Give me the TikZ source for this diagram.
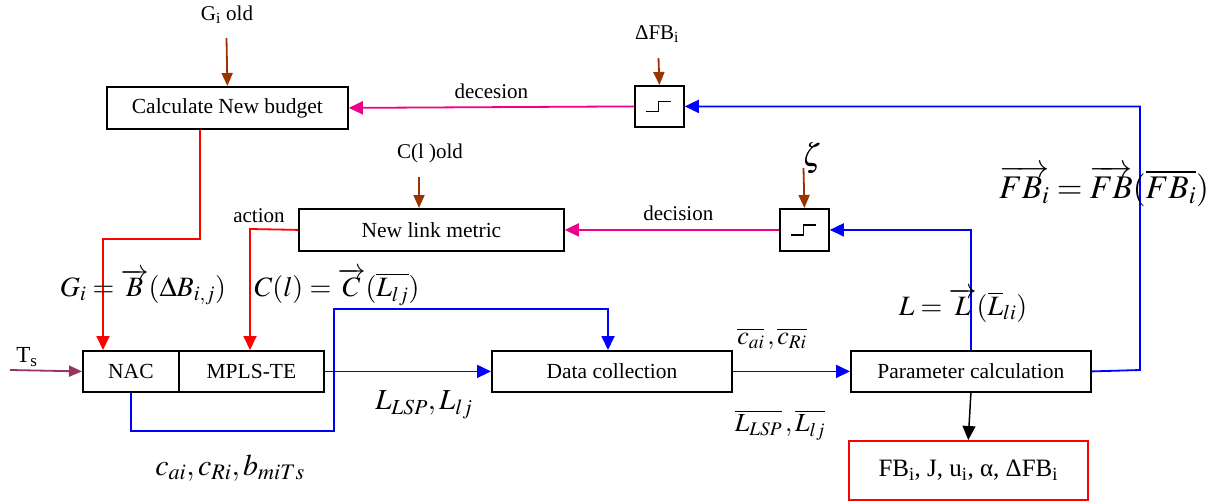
\documentclass[tikz,border=0pt]{standalone}
\usepackage{mathptmx}
\usepackage{fontspec}
\setmainfont{Liberation Serif}
\usetikzlibrary{arrows.meta}

\definecolor{brownin}{RGB}{153,51,0}
\definecolor{plum}{RGB}{153,51,102}

\tikzset{
  blk/.style={draw, line width=1.8pt, inner sep=0pt, anchor=north west,
              font=\fontsize{21.5}{25}\selectfont},
  tip/.style={-{Triangle[length=14pt,width=13pt]}},
  smalltip/.style={-{Triangle[length=13pt,width=11pt]}},
  wire/.style={line width=1.8pt},
  bluewire/.style={wire, blue},
  redwire/.style={wire, red},
  pinkwire/.style={wire, magenta},
  inwire/.style={wire, brownin, smalltip},
  lbl/.style={font=\fontsize{21}{25}\selectfont, inner sep=0pt, text=black},
  eq/.style={font=\fontsize{28}{32}\selectfont, inner sep=0pt, text=black},
}

\begin{document}
\begin{tikzpicture}[x=1pt, y=-1pt]
\useasboundingbox (0,0) rectangle (1217,501);

% blocks
\node[blk, minimum width=241pt, minimum height=42pt] (budget) at (106,86) {Calculate New budget};
\node[blk, minimum width=265pt, minimum height=42pt] (metric) at (298,208) {New link metric};
\node[blk, minimum width=49pt, minimum height=41pt] (s1) at (634,85) {};
\node[blk, minimum width=49pt, minimum height=42pt] (s2) at (779,208) {};
\node[blk, minimum width=96pt, minimum height=41pt] (nac) at (82,350) {NAC};
\node[blk, minimum width=145pt, minimum height=41pt] (mpls) at (178,350) {MPLS-TE};
\node[blk, minimum width=240pt, minimum height=41pt] (dc) at (491,350) {Data collection};
\node[blk, minimum width=240pt, minimum height=41pt] (pc) at (850,350) {Parameter calculation};
\node[blk, draw=red, line width=1.5pt, minimum width=239pt, minimum height=59pt,
      font=\fontsize{25}{29}\selectfont] (res) at (848,440)
  {FB\textsubscript{i}, J, u\textsubscript{i}, α, ΔFB\textsubscript{i}};

% threshold symbols
\foreach \s in {s1,s2}
  \draw[line width=1.8pt] ([xshift=-13pt,yshift=-5pt]\s.center) -- ++(12pt,0)
        -- ++(0,10pt) -- ++(13pt,0);

% external inputs
\node[lbl] (giold) at (227,15) {G\textsubscript{i} old};
\coordinate (giin) at (226.5,38);
\draw[inwire] (giin) -- (budget.north);

\node[lbl] (dfb) at (657,34) {ΔFB\textsubscript{i}};
\coordinate (dfbin) at (658.5,58);
\draw[inwire] (dfbin) -- (s1.north);

\node[lbl] (clold) at (430,153) {C(l )old};
\coordinate (clin) at (419,177);
\draw[inwire] (clin) -- (clin |- metric.north);

\node[eq, font=\fontsize{32}{36}\selectfont] (zeta) at (812,158) {$\zeta$};
\coordinate (zin) at (803.5,168);
\draw[inwire] (zin) -- (s2.north);

\node[lbl, font=\fontsize{23}{27}\selectfont] (ts) at (27,357) {T\textsubscript{s}};
\coordinate (tsin) at (10,370);
\draw[wire, plum, smalltip] (tsin) -- (nac.west);

% decisions
\draw[pinkwire, tip] (s1.west) -- (budget.east) node[lbl, midway, above=8pt] {decesion};
\draw[pinkwire, tip] (s2.west) -- (metric.east) node[lbl, pos=0.47, above=8pt] {decision};

% budget and metric actions
\coordinate (r1) at (200,239);
\coordinate (r2) at (103,239);
\draw[redwire, tip] (budget.south -| r1) -- (r1) -- (r2) -- (r2 |- nac.north);
\coordinate (a1) at (250,229);
\draw[redwire, tip] (metric.west) -- (a1) -- (a1 |- mpls.north);
\node[lbl] (action) at (259,216) {action};

% measurement paths
\coordinate (b1) at (334,431);
\coordinate (b2) at (608,309);
\draw[bluewire, tip] (nac.south) |- (b1) |- (b2) -- (b2 |- dc.north);
\draw[bluewire, tip] (mpls.east) -- (dc.west);
\draw[bluewire, tip] (dc.east) -- (pc.west);
\draw[bluewire, tip] (pc.north) |- (s2.east);
\coordinate (fbr) at (1140,370);
\draw[bluewire, tip] (pc.east) -- (fbr) |- (s1.east);
\draw[line width=1.5pt, tip] (pc.south) -- (res.north);

% equations
\node[eq] (geq) at (143,287) {$G_{i} = \overrightarrow{B}(\Delta B_{i,j})$};
\node[eq] (ceq) at (337,287) {$C(l) = \overrightarrow{C}(\overline{L_{lj}})$};
\node[eq] (leq) at (963,305) {$L = \overrightarrow{L}(\overline{L}_{li})$};
\node[eq, font=\fontsize{33}{37}\selectfont] (fbeq) at (1104,186)
  {$\overrightarrow{FB_{i}} = \overrightarrow{FB}(\overline{FB_{i}})$};
\node[eq, font=\fontsize{29}{33}\selectfont] (lls) at (424,405) {$L_{LSP}, L_{lj}$};
\node[eq, font=\fontsize{30}{34}\selectfont] (cab) at (230,468) {$c_{ai}, c_{Ri}, b_{miTs}$};
\node[eq, font=\fontsize{26}{30}\selectfont] (cbar) at (772,339) {$\overline{c_{ai}}\,, \overline{c_{Ri}}$};
\node[eq, font=\fontsize{26}{30}\selectfont] (lbar) at (780,425) {$\overline{L_{LSP}}\,, \overline{L_{lj}}$};
\end{tikzpicture}
\end{document}
